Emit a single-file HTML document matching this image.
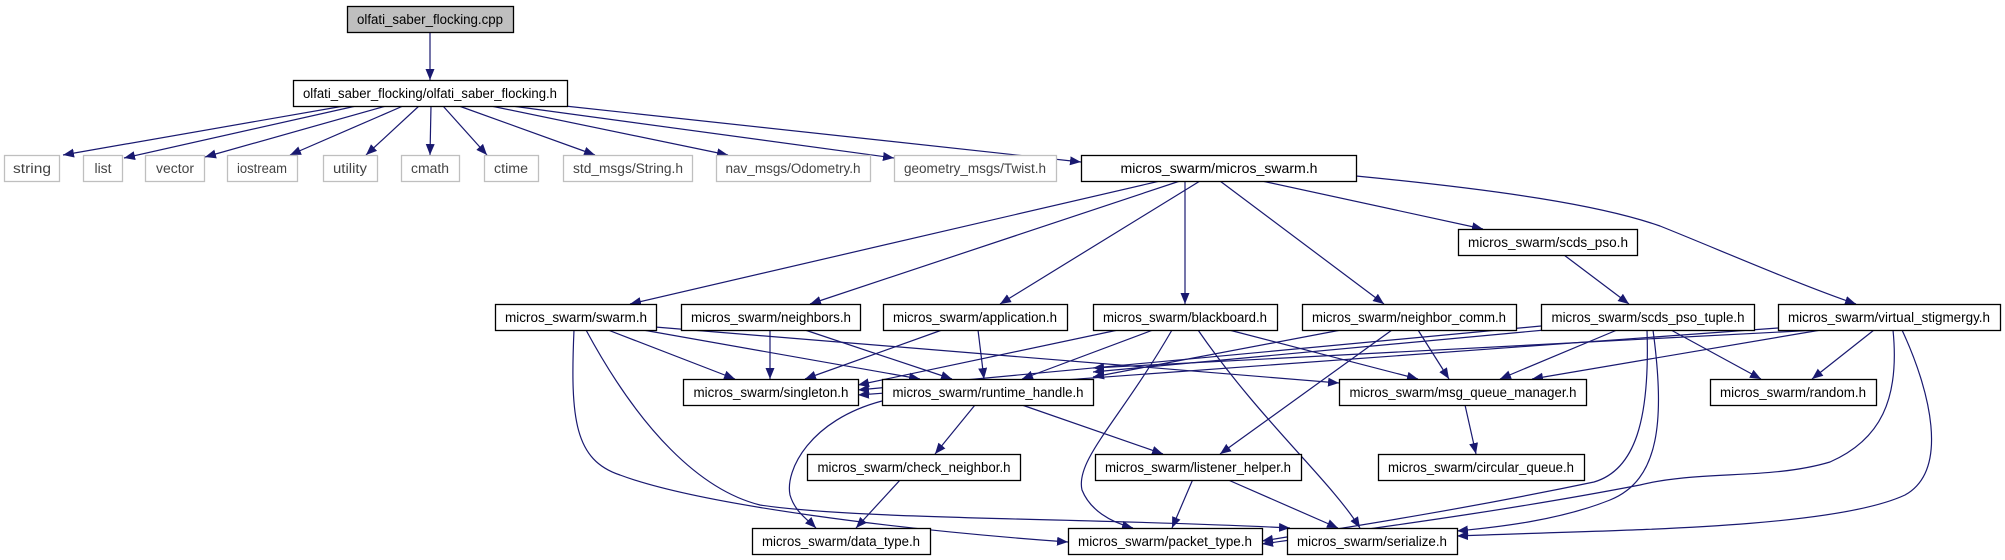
<!DOCTYPE html>
<html><head><meta charset="utf-8"><style>
html,body{margin:0;padding:0;background:#fff;}
svg{display:block;}
text{font-family:"Liberation Sans",Arial,sans-serif;font-size:13.5px;}
</style></head><body>
<svg width="2005" height="560" viewBox="0 0 2005 560" xmlns="http://www.w3.org/2000/svg">
<defs>
<marker id="a" markerUnits="userSpaceOnUse" markerWidth="12" markerHeight="10" refX="11" refY="4.5" orient="auto">
<path d="M0,0 L11,4.5 L0,9 Z" fill="#191970"/>
</marker>
</defs>
<g fill="none" stroke="#191970" stroke-width="1.2" marker-end="url(#a)">
<path d="M430,32 L430,80"/>
<path d="M344,106 L63,155"/>
<path d="M356,106 L124,158"/>
<path d="M386,106 L205,157"/>
<path d="M403,106 L290,155"/>
<path d="M419,106 L366,155"/>
<path d="M431,106 L430,155"/>
<path d="M443,106 L487,155"/>
<path d="M459,106 L595,155"/>
<path d="M491,106 L728,155"/>
<path d="M512,106 L894,158"/>
<path d="M565,106 L1081,162"/>
<path d="M1160,181 L630,304"/>
<path d="M1180,181 L810,304"/>
<path d="M1200,181 L1000,304"/>
<path d="M1185,181 L1185,304"/>
<path d="M1220,181 L1384,304"/>
<path d="M1262,181 L1483,229"/>
<path d="M1356,176 C1500,190 1600,205 1660,226 C1720,250 1800,285 1856,304"/>
<path d="M1564,255 L1629,304"/>
<path d="M608,330 L735,379"/>
<path d="M643,330 L920,379"/>
<path d="M655,327 L1339,383"/>
<path d="M574,330 C570,420 575,460 620,475 C700,505 900,530 1068,542"/>
<path d="M586,330 C640,430 700,490 760,505 C860,520 1100,518 1290,528"/>
<path d="M770,330 L770,379"/>
<path d="M805,330 L952,379"/>
<path d="M942,330 L805,379"/>
<path d="M978,330 L984,379"/>
<path d="M1118,330 L858,385"/>
<path d="M1153,330 L1022,379"/>
<path d="M1229,330 L1418,379"/>
<path d="M1172,330 C1120,420 1075,460 1082,490 C1090,510 1110,522 1133,528"/>
<path d="M1198,330 C1260,420 1330,480 1360,528"/>
<path d="M1341,330 L1093,377"/>
<path d="M1418,330 L1449,379"/>
<path d="M1392,330 L1220,454"/>
<path d="M1541,326 L858,390"/>
<path d="M1545,330 L1093,372"/>
<path d="M1617,330 L1500,379"/>
<path d="M1671,330 L1761,379"/>
<path d="M1647,330 C1650,420 1635,470 1594,482 C1450,512 1330,530 1262,541"/>
<path d="M1653,330 C1665,420 1660,480 1610,500 C1560,520 1500,527 1457,531"/>
<path d="M1778,328 L858,395"/>
<path d="M1818,330 L1093,368"/>
<path d="M1821,330 L1532,379"/>
<path d="M1874,330 L1812,379"/>
<path d="M1893,330 C1900,400 1880,440 1830,462 C1770,480 1700,470 1640,485 C1500,512 1360,530 1262,544"/>
<path d="M1902,330 C1930,390 1950,470 1905,495 C1830,530 1600,530 1457,536"/>
<path d="M975,405 L935,454"/>
<path d="M1022,405 L1163,454"/>
<path d="M882,401 C810,420 785,470 790,495 C795,512 808,520 816,528"/>
<path d="M901,479 L856,528"/>
<path d="M1193,479 L1172,528"/>
<path d="M1226,479 L1338,528"/>
<path d="M1465,405 L1476,454"/>
</g>
<g stroke-width="1.3">
<g fill="#fff" stroke="#bfbfbf">
<rect x="4.5" y="155.5" width="55" height="26"/>
<rect x="83.5" y="155.5" width="39" height="26"/>
<rect x="145.5" y="155.5" width="59" height="26"/>
<rect x="227.5" y="155.5" width="70" height="26"/>
<rect x="323.5" y="155.5" width="54" height="26"/>
<rect x="401.5" y="155.5" width="58" height="26"/>
<rect x="484.5" y="155.5" width="54" height="26"/>
<rect x="563.5" y="155.5" width="129" height="26"/>
<rect x="716.5" y="155.5" width="154" height="26"/>
<rect x="894.5" y="155.5" width="162" height="26"/>
</g>
<rect x="347.5" y="6.5" width="166" height="26" fill="#bfbfbf" stroke="#000"/>
<g fill="#fff" stroke="#000">
<rect x="293.5" y="80.5" width="274" height="26"/>
<rect x="1081.5" y="155.5" width="275" height="26"/>
<rect x="1458.5" y="229.5" width="179" height="26"/>
<rect x="495.5" y="304.5" width="161" height="26"/>
<rect x="681.5" y="304.5" width="179" height="26"/>
<rect x="883.5" y="304.5" width="184" height="26"/>
<rect x="1093.5" y="304.5" width="184" height="26"/>
<rect x="1302.5" y="304.5" width="214" height="26"/>
<rect x="1541.5" y="304.5" width="213" height="26"/>
<rect x="1778.5" y="304.5" width="222" height="26"/>
<rect x="683.5" y="379.5" width="175" height="26"/>
<rect x="882.5" y="379.5" width="211" height="26"/>
<rect x="1339.5" y="379.5" width="247" height="26"/>
<rect x="1710.5" y="379.5" width="166" height="26"/>
<rect x="807.5" y="454.5" width="213" height="26"/>
<rect x="1095.5" y="454.5" width="206" height="26"/>
<rect x="1378.5" y="454.5" width="206" height="26"/>
<rect x="752.5" y="528.5" width="178" height="26"/>
<rect x="1068.5" y="528.5" width="194" height="26"/>
<rect x="1287.5" y="528.5" width="170" height="26"/>
</g>
</g>
<g text-anchor="middle">
<g fill="#444">
<text x="32" y="173" textLength="38" lengthAdjust="spacingAndGlyphs">string</text>
<text x="103" y="173" textLength="17" lengthAdjust="spacingAndGlyphs">list</text>
<text x="175" y="173" textLength="38" lengthAdjust="spacingAndGlyphs">vector</text>
<text x="262" y="173" textLength="50" lengthAdjust="spacingAndGlyphs">iostream</text>
<text x="350" y="173" textLength="34" lengthAdjust="spacingAndGlyphs">utility</text>
<text x="430" y="173" textLength="38" lengthAdjust="spacingAndGlyphs">cmath</text>
<text x="511" y="173" textLength="34" lengthAdjust="spacingAndGlyphs">ctime</text>
<text x="628" y="173" textLength="110" lengthAdjust="spacingAndGlyphs">std_msgs/String.h</text>
<text x="793" y="173" textLength="135" lengthAdjust="spacingAndGlyphs">nav_msgs/Odometry.h</text>
<text x="975" y="173" textLength="142" lengthAdjust="spacingAndGlyphs">geometry_msgs/Twist.h</text>
</g>
<g fill="#000">
<text x="430" y="24" textLength="146" lengthAdjust="spacingAndGlyphs">olfati_saber_flocking.cpp</text>
<text x="430" y="98" textLength="254" lengthAdjust="spacingAndGlyphs">olfati_saber_flocking/olfati_saber_flocking.h</text>
<text x="1219" y="173" textLength="197" lengthAdjust="spacingAndGlyphs">micros_swarm/micros_swarm.h</text>
<text x="1548" y="247" textLength="160" lengthAdjust="spacingAndGlyphs">micros_swarm/scds_pso.h</text>
<text x="576" y="322" textLength="142" lengthAdjust="spacingAndGlyphs">micros_swarm/swarm.h</text>
<text x="771" y="322" textLength="160" lengthAdjust="spacingAndGlyphs">micros_swarm/neighbors.h</text>
<text x="975" y="322" textLength="164" lengthAdjust="spacingAndGlyphs">micros_swarm/application.h</text>
<text x="1185" y="322" textLength="164" lengthAdjust="spacingAndGlyphs">micros_swarm/blackboard.h</text>
<text x="1409" y="322" textLength="194" lengthAdjust="spacingAndGlyphs">micros_swarm/neighbor_comm.h</text>
<text x="1648" y="322" textLength="193" lengthAdjust="spacingAndGlyphs">micros_swarm/scds_pso_tuple.h</text>
<text x="1889" y="322" textLength="202" lengthAdjust="spacingAndGlyphs">micros_swarm/virtual_stigmergy.h</text>
<text x="771" y="397" textLength="155" lengthAdjust="spacingAndGlyphs">micros_swarm/singleton.h</text>
<text x="988" y="397" textLength="191" lengthAdjust="spacingAndGlyphs">micros_swarm/runtime_handle.h</text>
<text x="1463" y="397" textLength="227" lengthAdjust="spacingAndGlyphs">micros_swarm/msg_queue_manager.h</text>
<text x="1793" y="397" textLength="146" lengthAdjust="spacingAndGlyphs">micros_swarm/random.h</text>
<text x="914" y="472" textLength="193" lengthAdjust="spacingAndGlyphs">micros_swarm/check_neighbor.h</text>
<text x="1198" y="472" textLength="186" lengthAdjust="spacingAndGlyphs">micros_swarm/listener_helper.h</text>
<text x="1481" y="472" textLength="186" lengthAdjust="spacingAndGlyphs">micros_swarm/circular_queue.h</text>
<text x="841" y="546" textLength="158" lengthAdjust="spacingAndGlyphs">micros_swarm/data_type.h</text>
<text x="1165" y="546" textLength="174" lengthAdjust="spacingAndGlyphs">micros_swarm/packet_type.h</text>
<text x="1372" y="546" textLength="150" lengthAdjust="spacingAndGlyphs">micros_swarm/serialize.h</text>
</g>
</g>
</svg>
</body></html>
